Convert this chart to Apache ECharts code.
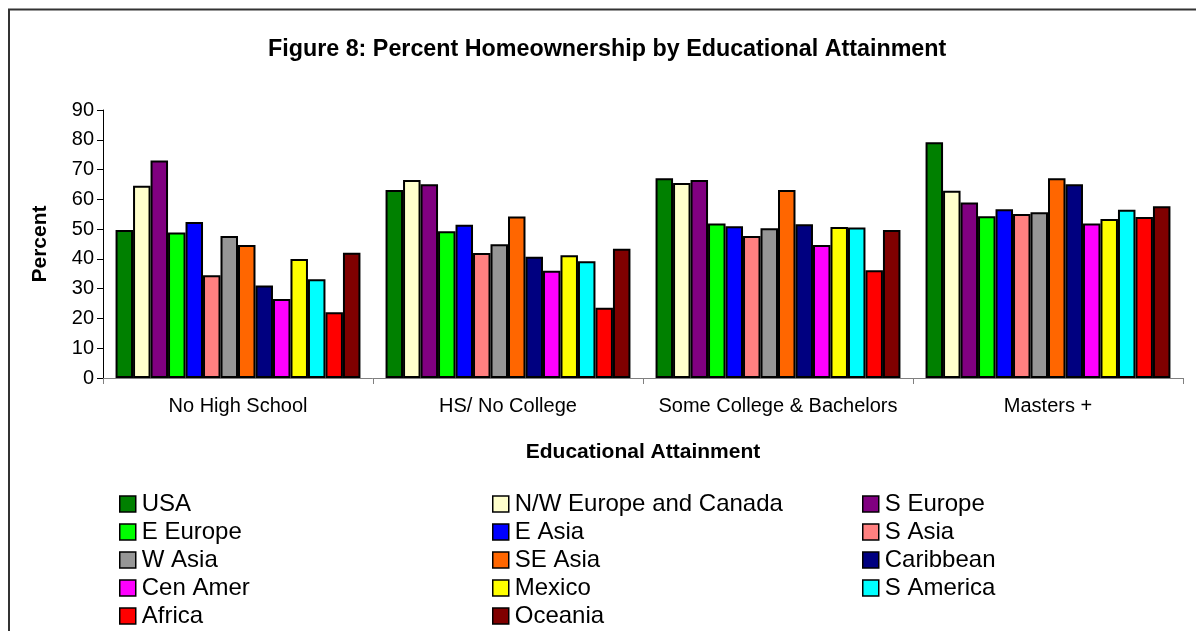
<!DOCTYPE html>
<html>
<head>
<meta charset="utf-8">
<script src="https://cdn.jsdelivr.net/npm/echarts@6/dist/echarts.min.js"></script>
<style>
html,body{margin:0;padding:0;background:#fff;}
#chart{width:1196px;height:631px;}
</style>
</head>
<body>
<div id="chart"></div>
<script>
const categories = ['No High School', 'HS/ No College', 'Some College & Bachelors', 'Masters +'];
const yTicks = { min: 0, max: 90, interval: 10 };

const usa        = [49.7, 63.1, 67.1, 79.2];
const nwEurope   = [64.6, 66.5, 65.5, 62.9];
const sEurope    = [73.0, 65.1, 66.5, 58.9];
const eEurope    = [48.9, 49.3, 51.9, 54.3];
const eAsia      = [52.4, 51.5, 51.0, 56.7];
const sAsia      = [34.5, 42.0, 47.7, 55.1];
const wAsia      = [47.7, 44.9, 50.3, 55.7];
const seAsia     = [44.7, 54.2, 63.1, 67.1];
const caribbean  = [31.1, 40.7, 51.6, 65.1];
const cenAmer    = [26.5, 36.0, 44.7, 51.9];
const mexico     = [40.0, 41.2, 50.7, 53.4];
const sAmerica   = [33.2, 39.2, 50.5, 56.5];
const africa     = [22.1, 23.6, 36.2, 54.1];
const oceania    = [42.1, 43.4, 49.7, 57.7];

const seriesDefs = [
  ['USA', usa, '#008000'],
  ['N/W Europe and Canada', nwEurope, '#FFFFCC'],
  ['S Europe', sEurope, '#800080'],
  ['E Europe', eEurope, '#00FF00'],
  ['E Asia', eAsia, '#0000FF'],
  ['S Asia', sAsia, '#FF8080'],
  ['W Asia', wAsia, '#969696'],
  ['SE Asia', seAsia, '#FF6600'],
  ['Caribbean', caribbean, '#000080'],
  ['Cen Amer', cenAmer, '#FF00FF'],
  ['Mexico', mexico, '#FFFF00'],
  ['S America', sAmerica, '#00FFFF'],
  ['Africa', africa, '#FF0000'],
  ['Oceania', oceania, '#800000']
];

const legendCol1 = ['USA', 'E Europe', 'W Asia', 'Cen Amer', 'Africa'];
const legendCol2 = ['N/W Europe and Canada', 'E Asia', 'SE Asia', 'Mexico', 'Oceania'];
const legendCol3 = ['S Europe', 'S Asia', 'Caribbean', 'S America'];

const FONT = 'Liberation Sans, Arial, sans-serif';

function legendAt(data, left) {
  return {
    data: data,
    orient: 'vertical',
    left: left,
    top: 492,
    height: 220,
    padding: 0,
    itemWidth: 16,
    itemHeight: 16,
    itemGap: 4,
    icon: 'rect',
    selectedMode: false,
    itemStyle: { borderColor: '#000', borderWidth: 1.5 },
    textStyle: { fontFamily: FONT, fontSize: 24, color: '#000', padding: [0, 0, 0, 1] }
  };
}

const chart = echarts.init(document.getElementById('chart'), null, { renderer: 'canvas' });
chart.setOption({
  animation: false,
  backgroundColor: '#fff',
  title: {
    text: 'Figure 8: Percent Homeownership by Educational Attainment',
    left: 263,
    top: 33,
    textStyle: { fontFamily: FONT, fontSize: 23.3, fontWeight: 'bold', color: '#000' }
  },
  graphic: [{
    type: 'rect',
    shape: { x: 9, y: 9.5, width: 1300, height: 800 },
    style: { fill: 'none', stroke: '#333', lineWidth: 2 },
    silent: true
  }],
  legend: [legendAt(legendCol1, 119), legendAt(legendCol2, 492), legendAt(legendCol3, 862)],
  grid: { left: 103, right: 13, top: 110, bottom: 253, containLabel: false },
  xAxis: {
    type: 'category',
    data: categories,
    name: 'Educational Attainment',
    nameLocation: 'middle',
    nameGap: 64,
    nameTextStyle: { fontFamily: FONT, fontSize: 21, fontWeight: 'bold', color: '#000' },
    axisLine: { lineStyle: { color: '#808080', width: 1 } },
    axisTick: { show: true, length: 6, lineStyle: { color: '#808080' } },
    axisLabel: { fontFamily: FONT, fontSize: 20, color: '#000', margin: 18, interval: 0 },
    splitLine: { show: false }
  },
  yAxis: {
    type: 'value',
    min: yTicks.min,
    max: yTicks.max,
    interval: yTicks.interval,
    name: 'Percent',
    nameLocation: 'middle',
    nameRotate: 90,
    nameGap: 52,
    nameTextStyle: { fontFamily: FONT, fontSize: 21, fontWeight: 'bold', color: '#000' },
    axisLine: { show: true, lineStyle: { color: '#000', width: 1 } },
    axisTick: { show: true, length: 6, lineStyle: { color: '#000' } },
    axisLabel: { fontFamily: FONT, fontSize: 20, color: '#000', margin: 9 },
    splitLine: { show: false }
  },
  series: seriesDefs.map(([name, values, color]) => ({
    name: name,
    type: 'bar',
    data: values,
    barGap: '0%',
    barCategoryGap: '9.3%',
    itemStyle: { color: color, borderColor: '#000', borderWidth: 2 }
  }))
});
</script>
</body>
</html>
